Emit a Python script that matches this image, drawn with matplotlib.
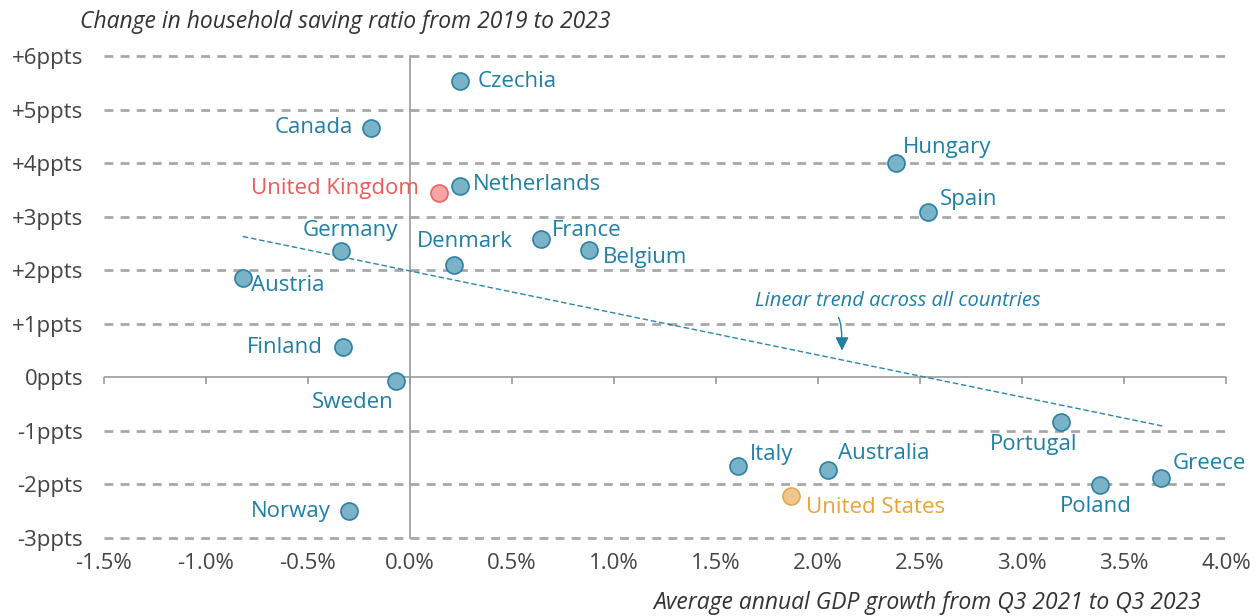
import numpy as np
import matplotlib
matplotlib.use('Agg')
from matplotlib import pyplot as plt
from matplotlib.patches import FancyArrowPatch

plt.rcParams['font.family'] = ['Open Sans', 'DejaVu Sans']

# data: GDP growth (%), change in saving ratio (ppts)
countries = ['Czechia', 'Canada', 'United Kingdom', 'Netherlands', 'Hungary', 'Spain',
             'Germany', 'Denmark', 'France', 'Belgium', 'Austria', 'Finland', 'Sweden',
             'Norway', 'Portugal', 'Italy', 'Australia', 'United States', 'Poland', 'Greece']
gdp_growth = [0.245, -0.19, 0.14, 0.245, 2.38, 2.54,
              -0.34, 0.216, 0.64, 0.877, -0.82, -0.33, -0.07,
              -0.30, 3.19, 1.61, 2.05, 1.87, 3.38, 3.68]
saving_change = [5.53, 4.66, 3.44, 3.58, 4.00, 3.09,
                 2.35, 2.09, 2.59, 2.37, 1.86, 0.56, -0.06,
                 -2.50, -0.84, -1.66, -1.73, -2.22, -2.01, -1.88]
trend_x = [-0.82, 3.69]
trend_y = [2.63, -0.91]
xticks = [-1.5, -1.0, -0.5, 0.0, 0.5, 1.0, 1.5, 2.0, 2.5, 3.0, 3.5, 4.0]
yticks = [-3, -2, -1, 0, 1, 2, 3, 4, 5, 6]

# styling
blue_fill, blue_edge, blue_txt = '#7ab2c7', '#2b81a4', '#1f7fa6'
styles = {'United Kingdom': ('#f5a3a3', '#e86464', '#ee5a5a'),
          'United States': ('#f0c68c', '#e3a84e', '#e8a33a')}
# label offsets in pixels (dx, dy, ha)
offsets = {'Czechia': (18, 0, 'left'), 'Canada': (-18, 0, 'right'),
           'United Kingdom': (-20, 5, 'right'), 'Netherlands': (13, 1, 'left'),
           'Hungary': (7, 16, 'left'), 'Spain': (12, 12, 'left'),
           'Germany': (10, 21, 'center'), 'Denmark': (11, 24, 'center'),
           'France': (11, 8, 'left'), 'Belgium': (14, -7, 'left'),
           'Austria': (8, -8, 'left'), 'Finland': (-20, 0, 'right'),
           'Sweden': (-2, -22, 'right'), 'Norway': (-18, 0, 'right'),
           'Portugal': (-27, -22, 'center'), 'Italy': (11, 12, 'left'),
           'Australia': (10, 16, 'left'), 'United States': (15, -11, 'left'),
           'Poland': (-4, -22, 'center'), 'Greece': (12, 15, 'left')}

fig = plt.figure(figsize=(12.58, 6.16), dpi=100)
ax = fig.add_axes([104 / 1258, 1 - 538 / 616, (1226 - 104) / 1258, (538 - 56) / 616])
ax.set_xlim(-1.5, 4.0)
ax.set_ylim(-3, 6)

for y in yticks:
    if y == 0:
        continue
    ax.axhline(y, color='#a8a8a8', lw=2, ls=(0, (3.2, 2.6)), zorder=1, clip_on=False)
ax.axhline(0, color='#999999', lw=1.2, zorder=1)
ax.axvline(0, color='#999999', lw=1.2, zorder=1, clip_on=False)
ax.vlines(xticks, -0.13, 0, color='#999999', lw=1.2, zorder=1, clip_on=False)

ax.plot(trend_x, trend_y, color='#2a86a8', lw=1, ls=(0, (4, 2)), zorder=2)

for name, x, y in zip(countries, gdp_growth, saving_change):
    fc, ec, tc = styles.get(name, (blue_fill, blue_edge, blue_txt))
    ax.scatter(x, y, s=150, facecolor=fc, edgecolor=ec, linewidth=1.2, zorder=3)
    dx, dy, ha = offsets[name]
    ax.annotate(name, (x, y), xytext=(dx, dy), textcoords='offset pixels',
                ha=ha, va='center', fontsize=16, color=tc, zorder=4)

ax.text(2.39, 1.43, 'Linear trend across all countries', ha='center', va='center',
        fontsize=14.5, style='italic', color=blue_txt)
arr = FancyArrowPatch((2.10, 1.12), (2.118, 0.50),
                      connectionstyle='angle3,angleA=-55,angleB=90',
                      arrowstyle='-|>,head_length=8,head_width=4', color='#1f7fa6',
                      lw=1, zorder=4, shrinkA=0, shrinkB=0)
ax.add_patch(arr)

ax.set_xticks(xticks)
ax.set_xticklabels(['{:.1f}%'.format(v) for v in xticks])
ax.set_yticks(yticks)
ax.set_yticklabels(['{:+d}ppts'.format(v) if v != 0 else '0ppts' for v in yticks])
ax.tick_params(axis='both', length=0, labelsize=16, colors='#444444')
ax.tick_params(axis='x', pad=11)
ax.tick_params(axis='y', pad=15)
for s in ax.spines.values():
    s.set_visible(False)

fig.text(80 / 1258, 1 - 22 / 616, 'Change in household saving ratio from 2019 to 2023',
         ha='left', va='center', fontsize=16.5, style='italic', color='#333333')
fig.text(1201 / 1258, 1 - 603 / 616, 'Average annual GDP growth from Q3 2021 to Q3 2023',
         ha='right', va='center', fontsize=16.5, style='italic', color='#333333')

fig.savefig('out.png', dpi=100)
